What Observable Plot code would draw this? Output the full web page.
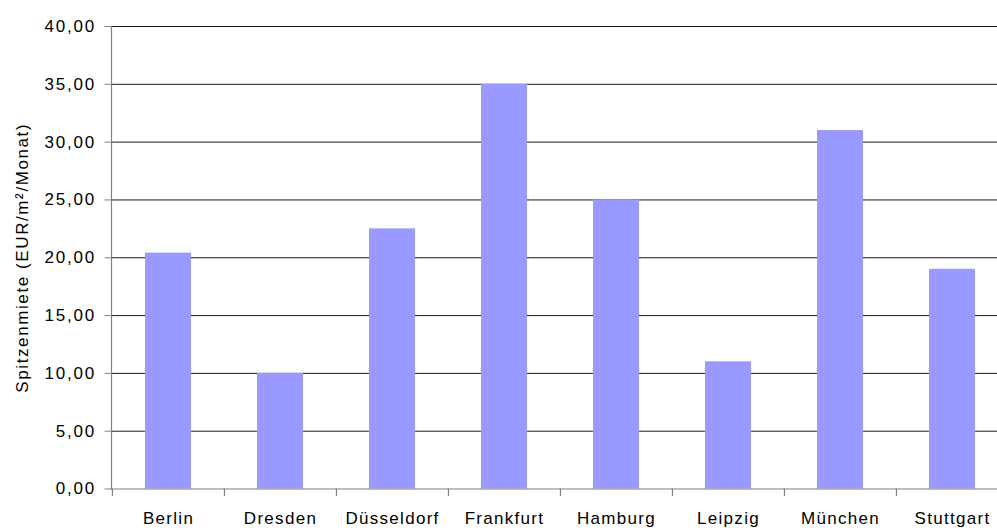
<!DOCTYPE html>
<html>
<head>
<meta charset="utf-8">
<script src="https://cdn.jsdelivr.net/npm/d3@7"></script>
<script src="https://cdn.jsdelivr.net/npm/@observablehq/plot@0.6"></script>
<style>
  html, body { margin: 0; padding: 0; background: #fff; overflow: hidden; width: 997px; height: 530px; }
  #chart svg { display: block; max-width: none !important; }
  #chart svg .ylab text { letter-spacing: 1.6px; }
  #chart svg [aria-label="y-axis tick label"] text { letter-spacing: 1.8px; }
</style>
</head>
<body>
<div id="chart"></div>
<script>
const categories = ["Berlin", "Dresden", "Düsseldorf", "Frankfurt", "Hamburg", "Leipzig", "München", "Stuttgart"];
const values = [20.4, 10, 22.5, 35, 25, 11, 31, 19];
const yTicks = [0, 5, 10, 15, 20, 25, 30, 35, 40];
const yLabel = "Spitzenmiete (EUR/m²/Monat)";

const data = categories.map((c, i) => ({city: c, value: values[i]}));

const W = 1008, H = 530, ML = 111, MR = 0, MT = 26, MB = 41.5;
const bw = (W - ML - MR) / categories.length;
const fmt = d => d.toFixed(2).replace(".", ",");

const chart = Plot.plot({
  width: W,
  height: H,
  marginLeft: ML,
  marginRight: MR,
  marginTop: MT,
  marginBottom: MB,
  style: {fontFamily: "'Liberation Sans', Arial, sans-serif", fontSize: "17px", letterSpacing: "1.3px", color: "#000", background: "#fff", overflow: "visible", maxWidth: "none"},
  x: {domain: categories, paddingInner: 0.59, paddingOuter: 0.295, align: 0.5},
  y: {domain: [0, 40]},
  marks: [
    Plot.ruleY(yTicks.filter(d => d > 0), {y: d => d, stroke: "#000", strokeWidth: 1, strokeOpacity: 0.9}),
    Plot.barY(data, {x: "city", y: "value", fill: "#9999ff"}),
    Plot.ruleY([0], {stroke: "#808080", strokeWidth: 1.2}),
    Plot.frame({anchor: "left", stroke: "#808080", strokeWidth: 1.2}),
    Plot.ruleX(categories, {x: d => d, y1: 0, y2: -0.65, dx: -bw / 2, stroke: "#808080", strokeWidth: 1.2, clip: false}),
    Plot.ruleX(categories.slice(-1), {x: d => d, y1: 0, y2: -0.65, dx: bw / 2, stroke: "#808080", strokeWidth: 1.2, clip: false}),
    Plot.axisY({ticks: yTicks, tickFormat: fmt, tickSize: 6.5, tickPadding: 9, stroke: "#808080", label: null, fill: "#000"}),
    Plot.axisX({tickSize: 0, tickPadding: 23, label: null, fill: "#000"}),
    Plot.text([yLabel], {frameAnchor: "left", dx: -89, rotate: -90, textAnchor: "middle", lineAnchor: "middle", text: d => d, fill: "#000", fontSize: 17, className: "ylab"})
  ]
});
document.getElementById("chart").appendChild(chart);
</script>
</body>
</html>
